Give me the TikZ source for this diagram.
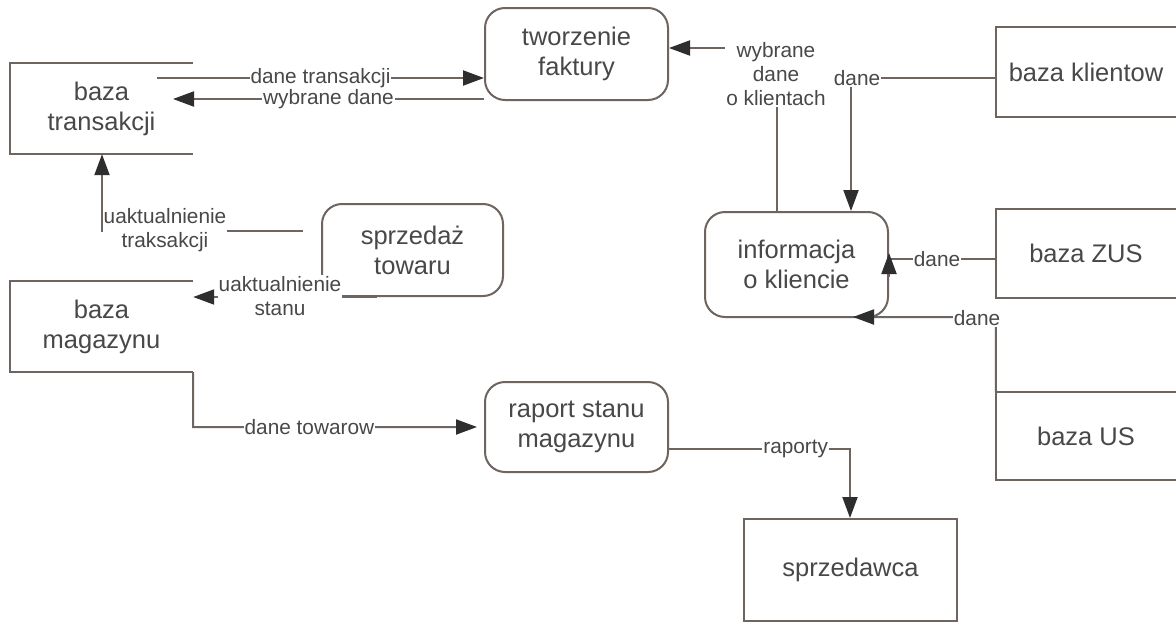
\documentclass[tikz,border=0pt]{standalone}
\usepackage{fontspec}
\setmainfont{Liberation Sans}
\usetikzlibrary{arrows.meta}
\definecolor{ln}{HTML}{6E6460}
\definecolor{tx}{HTML}{484848}
\definecolor{ah}{HTML}{2E2E2E}
\begin{document}
\begin{tikzpicture}[x=1pt,y=-1pt,
  every node/.style={text=tx},
  proc/.style={draw=ln, line width=2pt, rounded corners=20pt, minimum width=183pt, align=center, font=\fontsize{25.5}{30}\selectfont},
  store/.style={minimum width=183pt, align=center, inner sep=0pt, font=\fontsize{25.5}{30}\selectfont},
  ent/.style={minimum width=180pt, align=center, inner sep=0pt, font=\fontsize{25.5}{30}\selectfont},
  flow/.style={draw=ln, line width=2pt},
  arr/.style={flow, -{Triangle[length=21pt,width=15pt,color=ah]}},
  lbl/.style={fill=white, inner sep=1pt, align=center, font=\fontsize{20.8}{24}\selectfont}
]
\fill[white] (0,0) rectangle (1176,624);
\useasboundingbox (0,0) rectangle (1176,624);

% processes
\node[proc, minimum height=92pt] (tw) at (576.5,54) {tworzenie\\faktury};
\node[proc, minimum height=105pt] (inf) at (796.5,264.5) {informacja\\o kliencie};
\node[proc, minimum width=181pt, minimum height=92pt] (sp) at (412.5,250) {sprzedaż\\towaru};
\node[proc, minimum height=90pt] (rp) at (576.5,427) {raport stanu\\magazynu};

% data stores (open on the right)
\node[store, minimum height=91pt] (bt) at (101.5,108.5) {baza\\transakcji};
\draw[flow] (bt.north east) -- (bt.north west) -- (bt.south west) -- (bt.south east);
\node[store, minimum height=91pt] (bm) at (101.5,326.5) {baza\\magazynu};
\draw[flow] (bm.north east) -- (bm.north west) -- (bm.south west) -- (bm.south east);

% external entities (cut at the right edge)
\node[ent, minimum height=90pt] (kl) at (1086,72) {baza klientow};
\draw[flow] (kl.north east) -- (kl.north west) -- (kl.south west) -- (kl.south east);
\node[ent, minimum height=89pt] (zus) at (1086,253.5) {baza ZUS};
\draw[flow] (zus.north east) -- (zus.north west) -- (zus.south west) -- (zus.south east);
\node[ent, minimum height=88pt] (us) at (1086,436) {baza US};
\draw[flow] (us.north east) -- (us.north west) -- (us.south west) -- (us.south east);

\node[draw=ln, line width=2pt, minimum width=213pt, minimum height=102pt, font=\fontsize{25.5}{30}\selectfont] (sd) at (850.5,570) {sprzedawca};

% connectors
\coordinate (btout) at (157,78);
\draw[arr] (btout) -- node[lbl]{dane transakcji} (tw.west |- 0,78);
\draw[arr] (tw.west |- 0,99) -- node[lbl]{wybrane dane} (173,99);

\draw[arr] (inf.north -| 777,0) -- (777,48) -- (tw.east |- 0,48);
\node[lbl] (wdk) at (776,74) {wybrane\\dane\\o klientach};

\draw[arr] (kl.west |- 0,78) -- (851,78) -- (inf.north -| 851,0);
\node[lbl] (d1) at (857,78) {dane};

\draw[flow] (zus.west |- 0,259) -- (inf.east |- 0,259);
\draw[arr] (inf.east |- 0,277) -- (inf.east |- 0,253);
\node[lbl] (d2) at (937,259) {dane};

\draw[arr] (us.north west) -- (996,317) -- (853,317);
\node[lbl] (d3) at (977,318) {dane};

\coordinate (spout) at (303,231);
\draw[arr] (spout) -- (102,231) -- (bt.south -| 102,0);
\node[lbl] (ut) at (165,230) {uaktualnienie\\traksakcji};

\draw[arr] (sp.south -| 377,0) -- (bm.east |- 0,297);
\node[lbl] (us2) at (280,296) {uaktualnienie\\stanu};

\draw[arr, shorten >=7pt] (bm.south east) -- (193,427) -- node[lbl, pos=0.4]{dane towarow} (rp.west |- 0,427);

\draw[arr] (rp.east |- 0,449) -- node[lbl, pos=0.7]{raporty} (850,449) -- (sd.north -| 850,0);
\end{tikzpicture}
\end{document}
